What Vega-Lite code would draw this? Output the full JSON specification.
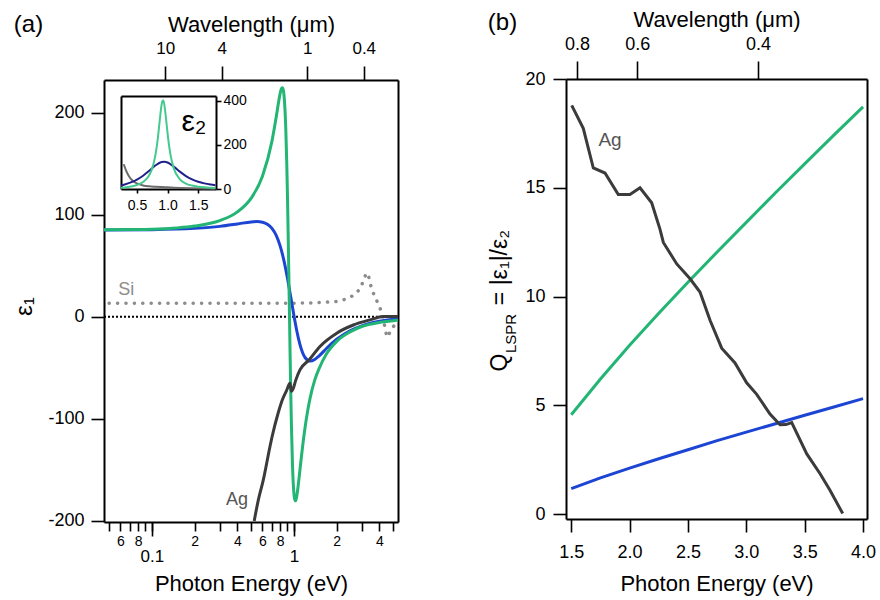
{
"$schema": "https://vega.github.io/schema/vega-lite/v6.json",
"width": 880, "height": 600,
"autosize": {"type": "none"},
"padding": 0,
"background": "white",
"config": {
  "view": {"stroke": null},
  "axis": {"grid": false, "domainColor": "#000", "domainWidth": 2, "tickColor": "#000", "tickWidth": 1.6, "labelColor": "#000", "titleColor": "#000", "labelFont": "Liberation Sans", "titleFont": "Liberation Sans", "titleFontWeight": "normal", "labelOverlap": false, "labelFlush": false, "labelBound": false},
  "text": {"font": "Liberation Sans"}
},
"datasets": {
  "a_main": [
    {"series":"Broad","E":0.046,"v":85.1},{"series":"Broad","E":0.1,"v":85.4},{"series":"Broad","E":0.2,"v":86.7},{"series":"Broad","E":0.3,"v":88.6},{"series":"Broad","E":0.4,"v":91.0},{"series":"Broad","E":0.5,"v":93.0},{"series":"Broad","E":0.55,"v":93.3},{"series":"Broad","E":0.6,"v":92.7},{"series":"Broad","E":0.65,"v":90.7},{"series":"Broad","E":0.7,"v":86.6},{"series":"Broad","E":0.75,"v":79.7},{"series":"Broad","E":0.8,"v":69.2},{"series":"Broad","E":0.85,"v":55.1},{"series":"Broad","E":0.9,"v":37.9},{"series":"Broad","E":0.95,"v":19.1},{"series":"Broad","E":1.0,"v":1.0},{"series":"Broad","E":1.05,"v":-14.6},{"series":"Broad","E":1.1,"v":-26.7},{"series":"Broad","E":1.2,"v":-40.1},{"series":"Broad","E":1.3,"v":-43.4},{"series":"Broad","E":1.4,"v":-41.8},{"series":"Broad","E":1.5,"v":-38.4},{"series":"Broad","E":1.7,"v":-30.8},{"series":"Broad","E":2.0,"v":-22.0},{"series":"Broad","E":2.5,"v":-13.4},{"series":"Broad","E":3.0,"v":-8.8},{"series":"Broad","E":4.0,"v":-4.4},{"series":"Broad","E":5.0,"v":-2.4},{"series":"Broad","E":5.4,"v":-1.9},
    {"series":"Narrow","E":0.046,"v":85.2},{"series":"Narrow","E":0.07,"v":85.5},{"series":"Narrow","E":0.1,"v":85.9},{"series":"Narrow","E":0.15,"v":87.1},{"series":"Narrow","E":0.2,"v":88.9},{"series":"Narrow","E":0.3,"v":94.2},{"series":"Narrow","E":0.4,"v":102.8},{"series":"Narrow","E":0.5,"v":116.3},{"series":"Narrow","E":0.6,"v":137.6},{"series":"Narrow","E":0.7,"v":172.1},{"series":"Narrow","E":0.75,"v":195.7},{"series":"Narrow","E":0.78,"v":210.6},{"series":"Narrow","E":0.8,"v":219.1},{"series":"Narrow","E":0.81,"v":222.3},{"series":"Narrow","E":0.82,"v":224.0},{"series":"Narrow","E":0.83,"v":224.3},{"series":"Narrow","E":0.84,"v":222.7},{"series":"Narrow","E":0.85,"v":217.7},{"series":"Narrow","E":0.86,"v":208.7},{"series":"Narrow","E":0.875,"v":186.1},{"series":"Narrow","E":0.89,"v":150.3},{"series":"Narrow","E":0.9,"v":119.0},{"series":"Narrow","E":0.91,"v":82.4},{"series":"Narrow","E":0.925,"v":21.7},{"series":"Narrow","E":0.94,"v":-39.0},{"series":"Narrow","E":0.95,"v":-75.4},{"series":"Narrow","E":0.96,"v":-106.7},{"series":"Narrow","E":0.975,"v":-142.1},{"series":"Narrow","E":0.99,"v":-164.6},{"series":"Narrow","E":1.0,"v":-173.4},{"series":"Narrow","E":1.01,"v":-178.3},{"series":"Narrow","E":1.025,"v":-180.2},{"series":"Narrow","E":1.04,"v":-177.7},{"series":"Narrow","E":1.07,"v":-165.8},{"series":"Narrow","E":1.1,"v":-150.9},{"series":"Narrow","E":1.15,"v":-127.0},{"series":"Narrow","E":1.2,"v":-107.4},{"series":"Narrow","E":1.25,"v":-91.8},{"series":"Narrow","E":1.3,"v":-79.4},{"series":"Narrow","E":1.4,"v":-62.0},{"series":"Narrow","E":1.5,"v":-51.0},{"series":"Narrow","E":1.7,"v":-36.0},{"series":"Narrow","E":2.0,"v":-24.0},{"series":"Narrow","E":2.5,"v":-14.5},{"series":"Narrow","E":3.0,"v":-9.5},{"series":"Narrow","E":4.0,"v":-5.5},{"series":"Narrow","E":5.0,"v":-3.8},{"series":"Narrow","E":5.4,"v":-3.3},
    {"series":"Ag","E":0.525,"v":-200},{"series":"Ag","E":0.56,"v":-180},{"series":"Ag","E":0.608,"v":-160},{"series":"Ag","E":0.678,"v":-127},{"series":"Ag","E":0.7,"v":-118},{"series":"Ag","E":0.775,"v":-94},{"series":"Ag","E":0.83,"v":-81},{"series":"Ag","E":0.888,"v":-72},{"series":"Ag","E":0.937,"v":-65},{"series":"Ag","E":0.96,"v":-73},{"series":"Ag","E":0.99,"v":-70},{"series":"Ag","E":1.03,"v":-62},{"series":"Ag","E":1.102,"v":-52},{"series":"Ag","E":1.281,"v":-42},{"series":"Ag","E":1.524,"v":-29},{"series":"Ag","E":2.0,"v":-16},{"series":"Ag","E":2.62,"v":-8},{"series":"Ag","E":3.43,"v":-3},{"series":"Ag","E":4.26,"v":0.3},{"series":"Ag","E":5.0,"v":0.3},{"series":"Ag","E":5.4,"v":0.2}
  ],
  "a_si": [
    {"E":0.05,"v":13.2},{"E":0.1,"v":13.2},{"E":0.2,"v":13.2},{"E":0.4,"v":13.3},{"E":0.7,"v":13.3},{"E":1.0,"v":13.4},{"E":1.3,"v":13.6},{"E":1.52,"v":14},{"E":2.0,"v":15},{"E":2.35,"v":17.5},{"E":2.62,"v":21},{"E":2.91,"v":27},{"E":3.08,"v":35},{"E":3.2,"v":41.5},{"E":3.27,"v":43},{"E":3.35,"v":40},{"E":3.43,"v":33},{"E":3.6,"v":24},{"E":3.82,"v":16},{"E":4.0,"v":10},{"E":4.19,"v":2},{"E":4.32,"v":-7},{"E":4.45,"v":-16},{"E":4.55,"v":-20},{"E":4.7,"v":-16},{"E":4.85,"v":-12},{"E":5.05,"v":-9}
  ],
  "a_lab": [
    {"series":"Si","E":0.066,"v":26,"t":"Si"},
    {"series":"Ag label","E":0.397,"v":-179,"t":"Ag"}
  ],
  "inset": [
    {"series":"Ag ε2","E":0.285,"v":112},{"series":"Ag ε2","E":0.32,"v":85},{"series":"Ag ε2","E":0.36,"v":62},{"series":"Ag ε2","E":0.4,"v":46},{"series":"Ag ε2","E":0.45,"v":33},{"series":"Ag ε2","E":0.5,"v":25},{"series":"Ag ε2","E":0.6,"v":16},{"series":"Ag ε2","E":0.7,"v":12},{"series":"Ag ε2","E":0.8,"v":10},{"series":"Ag ε2","E":0.9,"v":8.5},{"series":"Ag ε2","E":1.0,"v":7.5},{"series":"Ag ε2","E":1.2,"v":5},{"series":"Ag ε2","E":1.4,"v":3},{"series":"Ag ε2","E":1.6,"v":2},{"series":"Ag ε2","E":1.78,"v":1.5},
    {"series":"Broad ε2","E":0.24,"v":15.4},{"series":"Broad ε2","E":0.3,"v":20.2},{"series":"Broad ε2","E":0.4,"v":30.0},{"series":"Broad ε2","E":0.5,"v":42.9},{"series":"Broad ε2","E":0.6,"v":60.2},{"series":"Broad ε2","E":0.7,"v":82.3},{"series":"Broad ε2","E":0.8,"v":106.1},{"series":"Broad ε2","E":0.9,"v":122.2},{"series":"Broad ε2","E":0.95,"v":123.7},{"series":"Broad ε2","E":1.0,"v":120.0},{"series":"Broad ε2","E":1.1,"v":101.5},{"series":"Broad ε2","E":1.2,"v":78.5},{"series":"Broad ε2","E":1.3,"v":58.6},{"series":"Broad ε2","E":1.4,"v":43.7},{"series":"Broad ε2","E":1.5,"v":33.1},{"series":"Broad ε2","E":1.6,"v":25.5},{"series":"Broad ε2","E":1.7,"v":20.0},{"series":"Broad ε2","E":1.78,"v":16.7},
    {"series":"Narrow ε2","E":0.24,"v":5.2},{"series":"Narrow ε2","E":0.3,"v":7.0},{"series":"Narrow ε2","E":0.4,"v":11.3},{"series":"Narrow ε2","E":0.5,"v":18.3},{"series":"Narrow ε2","E":0.6,"v":31.6},{"series":"Narrow ε2","E":0.7,"v":62.3},{"series":"Narrow ε2","E":0.75,"v":94.2},{"series":"Narrow ε2","E":0.8,"v":151.3},{"series":"Narrow ε2","E":0.825,"v":195.3},{"series":"Narrow ε2","E":0.85,"v":252.2},{"series":"Narrow ε2","E":0.875,"v":318.1},{"series":"Narrow ε2","E":0.9,"v":377.1},{"series":"Narrow ε2","E":0.91,"v":392.6},{"series":"Narrow ε2","E":0.925,"v":401.7},{"series":"Narrow ε2","E":0.94,"v":392.2},{"series":"Narrow ε2","E":0.95,"v":376.7},{"series":"Narrow ε2","E":0.975,"v":317.5},{"series":"Narrow ε2","E":1.0,"v":251.7},{"series":"Narrow ε2","E":1.025,"v":195.1},{"series":"Narrow ε2","E":1.05,"v":151.2},{"series":"Narrow ε2","E":1.1,"v":94.4},{"series":"Narrow ε2","E":1.2,"v":44.1},{"series":"Narrow ε2","E":1.3,"v":24.7},{"series":"Narrow ε2","E":1.4,"v":15.6},{"series":"Narrow ε2","E":1.5,"v":10.6},{"series":"Narrow ε2","E":1.6,"v":7.6},{"series":"Narrow ε2","E":1.7,"v":5.7},{"series":"Narrow ε2","E":1.78,"v":4.6}
  ],
  "inset_lab": [{"E":1.431,"v":303,"t":"ε₂"}],
  "b_main": [
    {"series":"Narrow","E":1.5,"v":4.57},{"series":"Narrow","E":1.75,"v":6.21},{"series":"Narrow","E":2.0,"v":7.76},{"series":"Narrow","E":2.25,"v":9.23},{"series":"Narrow","E":2.5,"v":10.66},{"series":"Narrow","E":2.75,"v":12.05},{"series":"Narrow","E":3.0,"v":13.41},{"series":"Narrow","E":3.25,"v":14.77},{"series":"Narrow","E":3.5,"v":16.1},{"series":"Narrow","E":3.75,"v":17.42},{"series":"Narrow","E":4.0,"v":18.72},
    {"series":"Broad","E":1.5,"v":1.18},{"series":"Broad","E":1.75,"v":1.67},{"series":"Broad","E":2.0,"v":2.12},{"series":"Broad","E":2.25,"v":2.55},{"series":"Broad","E":2.5,"v":2.96},{"series":"Broad","E":2.75,"v":3.38},{"series":"Broad","E":3.0,"v":3.77},{"series":"Broad","E":3.25,"v":4.16},{"series":"Broad","E":3.5,"v":4.55},{"series":"Broad","E":3.75,"v":4.93},{"series":"Broad","E":4.0,"v":5.31},
    {"series":"Ag","E":1.504,"v":18.79},{"series":"Ag","E":1.603,"v":17.73},{"series":"Ag","E":1.689,"v":15.91},{"series":"Ag","E":1.789,"v":15.68},{"series":"Ag","E":1.903,"v":14.69},{"series":"Ag","E":2.003,"v":14.69},{"series":"Ag","E":2.089,"v":15.0},{"series":"Ag","E":2.189,"v":14.31},{"series":"Ag","E":2.26,"v":13.1},{"series":"Ag","E":2.289,"v":12.49},{"series":"Ag","E":2.404,"v":11.5},{"series":"Ag","E":2.518,"v":10.82},{"series":"Ag","E":2.603,"v":10.21},{"series":"Ag","E":2.69,"v":8.9},{"series":"Ag","E":2.789,"v":7.63},{"series":"Ag","E":2.903,"v":6.95},{"series":"Ag","E":3.003,"v":6.04},{"series":"Ag","E":3.089,"v":5.51},{"series":"Ag","E":3.203,"v":4.6},{"series":"Ag","E":3.289,"v":4.11},{"series":"Ag","E":3.339,"v":4.12},{"series":"Ag","E":3.389,"v":4.21},{"series":"Ag","E":3.518,"v":2.77},{"series":"Ag","E":3.632,"v":1.86},{"series":"Ag","E":3.717,"v":1.1},{"series":"Ag","E":3.826,"v":0.03}
  ],
  "b_lab": [{"E":1.832,"v":17.2,"t":"Ag"}]
},
"resolve": {"scale": {"x": "independent", "y": "independent"}},
"layer": [
  {
    "resolve": {"axis": {"x": "independent", "y": "independent"}},
    "layer": [
      {
        "data": {"name": "a_si"},
        "mark": {"type": "line", "color": "#8c8c8c", "strokeDash": [0.1, 8.3], "strokeCap": "round", "strokeWidth": 3.5},
        "encoding": {
          "x": {"field": "E", "type": "quantitative", "scale": {"type": "log", "domain": [0.046, 5.4], "range": [104, 398], "nice": false},
                "axis": {"orient": "bottom", "offset": -78, "values": [0.1, 1], "labelExpr": "datum.value < 0.5 ? '0.1' : '1'", "tickSize": 14, "labelPadding": 12, "labelFontSize": 17, "domain": false, "title": null}},
          "y": {"field": "v", "type": "quantitative", "scale": {"domain": [-201, 232], "range": [522, 80], "nice": false, "zero": false},
                "axis": {"orient": "right", "offset": -482, "ticks": false, "labels": false, "title": "(a)", "titleFontSize": 24, "titleX": -370, "titleY": 24, "titleAngle": 0, "titleAlign": "center", "titleBaseline": "middle"}}
        }
      },
      {
        "data": {"values": [{}]},
        "mark": {"type": "rule", "color": "#000", "strokeDash": [2, 2], "strokeWidth": 2},
        "encoding": {
          "x": {"datum": 0.046, "type": "quantitative", "scale": {"type": "log", "domain": [0.046, 5.4], "range": [104, 398], "nice": false}, "axis": null},
          "x2": {"datum": 5.4},
          "y": {"datum": 0, "type": "quantitative", "scale": {"domain": [-201, 232], "range": [522, 80], "nice": false, "zero": false}, "axis": null}
        }
      },
      {
        "data": {"name": "a_main"},
        "mark": {"type": "line", "strokeWidth": 3, "interpolate": "monotone"},
        "encoding": {
          "x": {"field": "E", "type": "quantitative", "scale": {"type": "log", "domain": [0.046, 5.4], "range": [104, 398], "nice": false},
                "axis": {"orient": "bottom", "offset": -78, "values": [0.05,0.06,0.07,0.08,0.09,0.1,0.2,0.3,0.4,0.5,0.6,0.7,0.8,0.9,1,2,3,4,5], "labelExpr": "indexof([0.06,0.08,0.2,0.4,0.6,0.8,2,4], datum.value) >= 0 ? format(datum.value / pow(10, floor(log(datum.value) / LN10)), '.0f') : ''", "tickSize": 9, "labelPadding": 3, "labelFontSize": 14, "title": "Photon Energy (eV)", "titleFontSize": 22, "titleX": 251, "titleY": 61, "titleAngle": 0, "titleAlign": "center", "titleBaseline": "middle"}},
          "y": {"field": "v", "type": "quantitative", "scale": {"domain": [-201, 232], "range": [522, 80], "nice": false, "zero": false},
                "axis": {"orient": "left", "offset": -104, "values": [-200, -100, 0, 100, 200], "labelExpr": "datum.value < 0 ? '-' + format(-datum.value, 'd') : format(datum.value, 'd')", "tickSize": 13, "labelPadding": 7, "labelFontSize": 18, "title": "ε₁", "titleFontSize": 24, "titleX": -80, "titleY": 306, "titleAngle": 270, "titleAlign": "center", "titleBaseline": "middle"}},
          "color": {"field": "series", "type": "nominal", "legend": null,
                    "scale": {"domain": ["Ag","Narrow","Broad","Si","Ag label","Ag ε2","Narrow ε2","Broad ε2"], "range": ["#3b3b3b","#22b573","#1d45d4","#8c8c8c","#555555","#6b6b6b","#44c98e","#1f1f8c"]}}
        }
      },
      {
        "data": {"name": "a_lab"},
        "mark": {"type": "text", "fontSize": 18, "align": "center", "baseline": "middle"},
        "encoding": {
          "x": {"field": "E", "type": "quantitative", "scale": {"type": "log", "domain": [0.046, 5.4], "range": [104, 398], "nice": false},
                "axis": {"orient": "top", "offset": -80, "values": [0.123984, 0.30996, 1.23984, 3.0996], "labelExpr": "format(1.23984 / datum.value, '~g')", "tickSize": 14, "labelPadding": 9, "labelFontSize": 17, "title": "Wavelength (μm)", "titleFontSize": 22, "titleX": 251, "titleY": -56, "titleAngle": 0, "titleAlign": "center", "titleBaseline": "middle"}},
          "y": {"field": "v", "type": "quantitative", "scale": {"domain": [-201, 232], "range": [522, 80], "nice": false, "zero": false}, "axis": null},
          "text": {"field": "t"},
          "color": {"field": "series", "type": "nominal", "legend": null,
                    "scale": {"domain": ["Ag","Narrow","Broad","Si","Ag label","Ag ε2","Narrow ε2","Broad ε2"], "range": ["#3b3b3b","#22b573","#1d45d4","#8c8c8c","#555555","#6b6b6b","#44c98e","#1f1f8c"]}}
        }
      }
    ]
  },
  {
    "resolve": {"axis": {"x": "independent", "y": "independent"}},
    "layer": [
      {
        "data": {"name": "inset"},
        "mark": {"type": "line", "strokeWidth": 2, "interpolate": "monotone"},
        "encoding": {
          "x": {"field": "E", "type": "quantitative", "scale": {"domain": [0.24, 1.79], "range": [121, 216], "nice": false, "zero": false},
                "axis": {"orient": "bottom", "offset": -411, "values": [0.5, 1, 1.5], "format": ".1f", "tickSize": 4, "labelPadding": 5, "labelFontSize": 14, "title": null}},
          "y": {"field": "v", "type": "quantitative", "scale": {"domain": [0, 421], "range": [189, 96], "nice": false, "zero": false},
                "axis": {"orient": "right", "offset": -664, "values": [0, 200, 400], "format": "d", "tickSize": 5, "labelPadding": 2, "labelFontSize": 14, "title": null}},
          "color": {"field": "series", "type": "nominal", "legend": null,
                    "scale": {"domain": ["Ag","Narrow","Broad","Si","Ag label","Ag ε2","Narrow ε2","Broad ε2"], "range": ["#3b3b3b","#22b573","#1d45d4","#8c8c8c","#555555","#6b6b6b","#44c98e","#1f1f8c"]}}
        }
      },
      {
        "data": {"name": "inset_lab"},
        "mark": {"type": "text", "fontSize": 30, "align": "center", "baseline": "middle", "color": "#000"},
        "encoding": {
          "x": {"field": "E", "type": "quantitative", "scale": {"domain": [0.24, 1.79], "range": [121, 216], "nice": false, "zero": false},
                "axis": {"orient": "top", "offset": -96, "ticks": false, "labels": false, "title": null}},
          "y": {"field": "v", "type": "quantitative", "scale": {"domain": [0, 421], "range": [189, 96], "nice": false, "zero": false},
                "axis": {"orient": "left", "offset": -121, "ticks": false, "labels": false, "title": null}},
          "text": {"field": "t"}
        }
      }
    ]
  },
  {
    "resolve": {"axis": {"x": "independent", "y": "independent"}},
    "layer": [
      {
        "data": {"name": "b_main"},
        "transform": [{"filter": "datum.series == 'Narrow'"}],
        "mark": {"type": "line", "strokeWidth": 3, "color": "#22b573"},
        "encoding": {
          "x": {"field": "E", "type": "quantitative", "scale": {"domain": [1.455, 4.034], "range": [566, 867], "nice": false, "zero": false}, "axis": null},
          "y": {"field": "v", "type": "quantitative", "scale": {"domain": [-0.22, 20], "range": [519, 79], "nice": false, "zero": false},
                "axis": {"orient": "left", "offset": -566, "domain": false, "ticks": false, "labels": false, "title": "LSPR", "titleFontSize": 15, "titleX": -56, "titleY": 333, "titleAngle": 270, "titleAlign": "center", "titleBaseline": "middle"}}
        }
      },
      {
        "data": {"name": "b_main"},
        "transform": [{"filter": "datum.series == 'Broad'"}],
        "mark": {"type": "line", "strokeWidth": 3, "color": "#1d45d4"},
        "encoding": {
          "x": {"field": "E", "type": "quantitative", "scale": {"domain": [1.455, 4.034], "range": [566, 867], "nice": false, "zero": false}, "axis": null},
          "y": {"field": "v", "type": "quantitative", "scale": {"domain": [-0.22, 20], "range": [519, 79], "nice": false, "zero": false},
                "axis": {"orient": "left", "offset": -566, "domain": false, "ticks": false, "labels": false, "title": "= |ε₁|/ε₂", "titleFontSize": 23, "titleX": -67, "titleY": 267, "titleAngle": 270, "titleAlign": "center", "titleBaseline": "middle"}}
        }
      },
      {
        "data": {"name": "b_main"},
        "transform": [{"filter": "datum.series == 'Ag'"}],
        "mark": {"type": "line", "strokeWidth": 3, "color": "#3b3b3b"},
        "encoding": {
          "x": {"field": "E", "type": "quantitative", "scale": {"domain": [1.455, 4.034], "range": [566, 867], "nice": false, "zero": false},
                "axis": {"orient": "bottom", "offset": -81, "values": [1.5, 2, 2.5, 3, 3.5, 4], "format": ".1f", "tickSize": 13, "labelPadding": 11, "labelFontSize": 18, "title": "Photon Energy (eV)", "titleFontSize": 22, "titleX": 716.5, "titleY": 64, "titleAngle": 0, "titleAlign": "center", "titleBaseline": "middle"}},
          "y": {"field": "v", "type": "quantitative", "scale": {"domain": [-0.22, 20], "range": [519, 79], "nice": false, "zero": false},
                "axis": {"orient": "left", "offset": -566, "values": [0, 5, 10, 15, 20], "format": "d", "tickSize": 13, "labelPadding": 8, "labelFontSize": 18, "title": "Q", "titleFontSize": 23, "titleX": -67, "titleY": 362, "titleAngle": 270, "titleAlign": "center", "titleBaseline": "middle"}}
        }
      },
      {
        "data": {"name": "b_lab"},
        "mark": {"type": "text", "fontSize": 19, "align": "center", "baseline": "middle", "color": "#555555"},
        "encoding": {
          "x": {"field": "E", "type": "quantitative", "scale": {"domain": [1.455, 4.034], "range": [566, 867], "nice": false, "zero": false},
                "axis": {"orient": "top", "offset": -79, "values": [1.5498, 2.0664, 3.0996], "labelExpr": "format(1.23984 / datum.value, '.1f')", "tickSize": 18, "labelPadding": 8, "labelFontSize": 18, "title": "Wavelength (μm)", "titleFontSize": 22, "titleX": 716.5, "titleY": -60, "titleAngle": 0, "titleAlign": "center", "titleBaseline": "middle"}},
          "y": {"field": "v", "type": "quantitative", "scale": {"domain": [-0.22, 20], "range": [519, 79], "nice": false, "zero": false},
                "axis": {"orient": "right", "offset": -13, "ticks": false, "labels": false, "title": "(b)", "titleFontSize": 24, "titleX": -365, "titleY": 22, "titleAngle": 0, "titleAlign": "center", "titleBaseline": "middle"}},
          "text": {"field": "t"}
        }
      }
    ]
  }
]
}
